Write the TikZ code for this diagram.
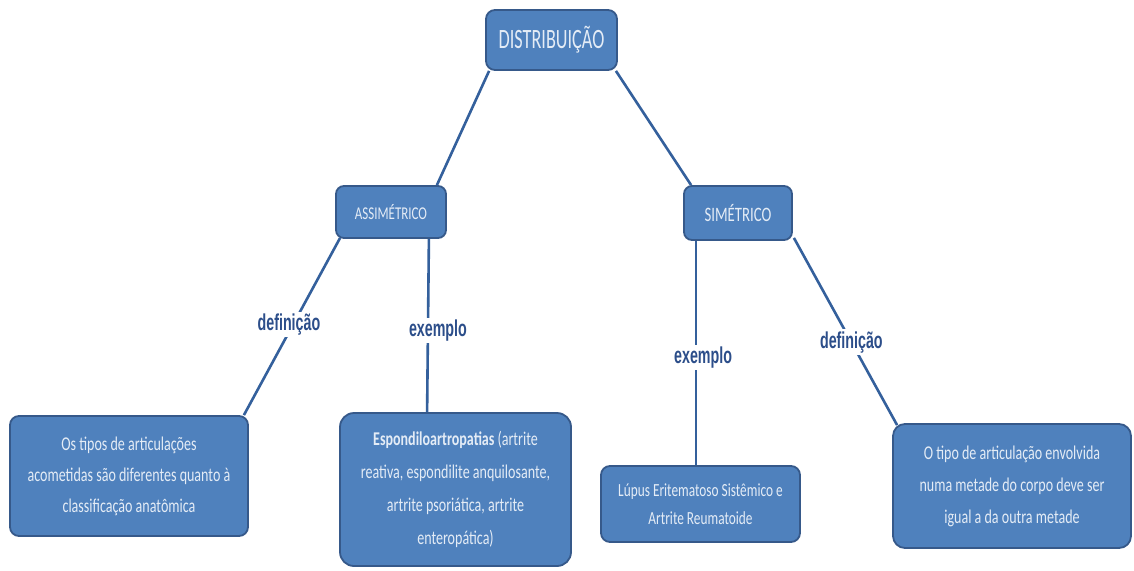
\documentclass[tikz,border=0pt]{standalone}
\usepackage{fontspec}
\usetikzlibrary{calc}
\newfontfamily\boxfont[FakeStretch=0.72]{Carlito}
\newfontfamily\titlefont[FakeStretch=0.65]{Carlito}
\newfontfamily\labfont[FakeStretch=0.62]{Liberation Sans}
\definecolor{boxblue}{HTML}{4F81BD}
\definecolor{boxedge}{HTML}{36598A}
\definecolor{boxtext}{HTML}{E4ECF6}
\definecolor{linkblue}{HTML}{34609C}
\definecolor{labblue}{HTML}{2C4E8A}
\begin{document}
\begin{tikzpicture}[x=1pt,y=-1pt,
  card/.style={draw=boxedge, line width=1.8pt, fill=boxblue, text=boxtext,
    rounded corners=9pt, align=center, inner sep=4pt, font=\boxfont},
  link/.style={draw=linkblue, line width=2.6pt},
  tag/.style={fill=white, text=labblue, inner sep=2pt,
    font=\labfont\bfseries\fontsize{23}{25}\selectfont}]
\useasboundingbox[fill=white] (0,0) rectangle (1134,570);

% top level
\node[card, minimum width=131pt, minimum height=60pt,
  font=\titlefont\fontsize{28}{30}\selectfont] (dist) at (551.5,40) {DISTRIBUIÇÃO};

% second level
\node[card, minimum width=110pt, minimum height=52pt, rounded corners=8pt,
  font=\boxfont\fontsize{18}{20}\selectfont] (assim) at (391,212) {ASSIMÉTRICO};
\node[card, minimum width=108pt, minimum height=54pt, rounded corners=8pt,
  font=\boxfont\fontsize{20.5}{22}\selectfont] (sim) at (738,213) {SIMÉTRICO};

% leaves
\node[card, minimum width=238pt, minimum height=120pt,
  font=\boxfont\fontsize{19.5}{31}\selectfont] (ldef) at (129,476)
  {Os tipos de articulações\\acometidas são diferentes quanto à\\classificação anatômica};
\node[card, minimum width=231pt, minimum height=153pt, rounded corners=14pt,
  font=\boxfont\fontsize{19.5}{33}\selectfont] (esp) at (455.5,489.5)
  {{\bfseries Espondiloartropatias} (artrite\\reativa, espondilite anquilosante,\\artrite psoriática, artrite\\enteropática)};
\node[card, minimum width=199pt, minimum height=76pt,
  font=\boxfont\fontsize{18.5}{28}\selectfont] (lup) at (700.5,504)
  {Lúpus Eritematoso Sistêmico e\\Artrite Reumatoide};
\node[card, minimum width=238pt, minimum height=124pt, rounded corners=12pt,
  font=\boxfont\fontsize{19.5}{32}\selectfont] (rdef) at (1012,486)
  {O tipo de articulação envolvida\\numa metade do corpo deve ser\\igual a da outra metade};

% connectors with their labels
\draw[link] ($(dist.south west)+(4,0)$) -- ($(assim.north east)+(-10,0)$);
\draw[link] ($(dist.south east)+(-2,0)$) -- ($(sim.north west)+(8,0)$);
\draw[link] ($(assim.south west)+(5,-1)$) -- ($(ldef.north east)+(-5,0)$)
  node[tag, pos=0.49, xshift=-4pt] {definição};
\draw[link] ($(assim.south east)+(-18,0)$) -- ($(esp.north west)+(88,0)$)
  node[tag, pos=0.53, xshift=10pt] {exemplo};
\draw[link] ($(sim.south west)+(13,0)$) -- ($(lup.north west)+(96,0)$)
  node[tag, pos=0.52, xshift=7pt] {exemplo};
\draw[link] ($(sim.south east)+(1,-3)$) -- ($(rdef.north west)+(5,2)$)
  node[tag, pos=0.557] {definição};
\end{tikzpicture}
\end{document}
